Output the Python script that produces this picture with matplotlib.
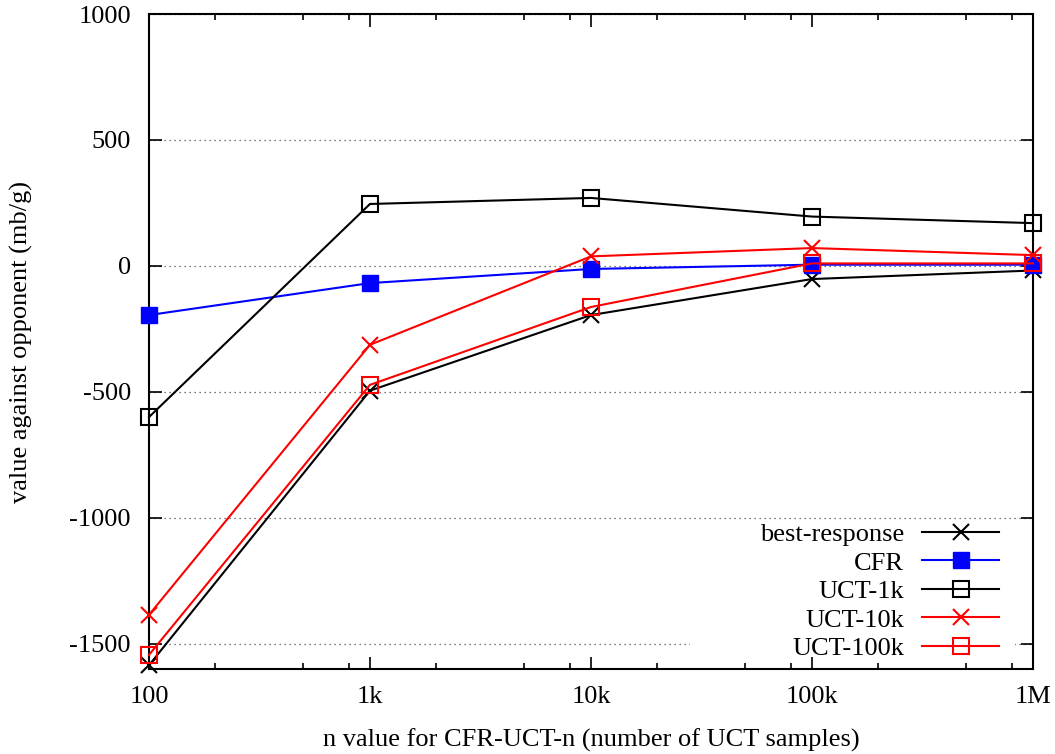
import matplotlib
matplotlib.use("Agg")
import matplotlib.pyplot as plt
import matplotlib.ticker as mticker
from matplotlib.patches import Rectangle

plt.rcParams['font.family'] = ['Liberation Serif', 'DejaVu Serif']
plt.rcParams['font.size'] = 19
plt.rcParams['axes.unicode_minus'] = False

# n values (number of UCT samples)
n_values = [100, 1000, 10000, 100000, 1000000]
n_labels = ["100", "1k", "10k", "100k", "1M"]

# value against opponent (mb/g)
best_response = [-1585, -495, -195, -52, -18]
cfr = [-195, -68, -12, 5, 5]
uct_1k = [-600, 246, 270, 196, 170]
uct_10k = [-1385, -313, 38, 71, 43]
uct_100k = [-1544, -472, -163, 10, 10]

fig = plt.figure(figsize=(10.55, 7.54), dpi=100)
ax = fig.add_axes([0.1412, 0.1127, 0.8379, 0.8687])

ms = 11
lw = 1.5
kw = dict(lw=lw, ms=ms, clip_on=False, zorder=3)
ax.plot(n_values, best_response, color='black', marker='x', mew=lw, label='best-response', **kw)
ax.plot(n_values, cfr, color='blue', marker='s', mfc='blue', mec='blue', label='CFR', **kw)
ax.plot(n_values, uct_1k, color='black', marker='s', mfc='none', mew=lw, label='UCT-1k', **kw)
ax.plot(n_values, uct_10k, color='red', marker='x', mew=lw, label='UCT-10k', **kw)
ax.plot(n_values, uct_100k, color='red', marker='s', mfc='none', mew=lw, label='UCT-100k', **kw)

ax.set_xscale('log')
ax.set_xlim(100, 1000000)
ax.set_ylim(-1600, 1000)
ax.set_xticks(n_values)
ax.set_xticklabels(n_labels)
ax.xaxis.set_minor_locator(mticker.LogLocator(base=10, subs=[2, 5, 8]))
ax.xaxis.set_minor_formatter(mticker.NullFormatter())
ax.set_yticks([-1500, -1000, -500, 0, 500, 1000])

ax.tick_params(which='both', direction='in', top=True, right=True, width=1.2, labelsize=19)
ax.tick_params(which='major', length=9)
ax.tick_params(which='minor', length=4.5)
ax.tick_params(axis='x', pad=12)
ax.tick_params(axis='y', pad=13)
for s in ax.spines.values():
    s.set_linewidth(1.5)

ax.yaxis.grid(True, linestyle=(0, (1, 3)), color='0.3', lw=0.9)
ax.set_axisbelow(True)

ax.set_xlabel("n value for CFR-UCT-n (number of UCT samples)", fontsize=19, labelpad=15)
ax.set_ylabel("value against opponent (mb/g)", fontsize=19, labelpad=26)

# white key box hiding the grid behind the legend
ax.add_patch(Rectangle((0.612, 0.021), 0.368, 0.199, transform=ax.transAxes,
                       facecolor='white', edgecolor='none', zorder=1))

leg = ax.legend(loc='lower right', bbox_to_anchor=(0.9615, 0.0137), markerfirst=False,
                handlelength=2.9, handletextpad=0.7, labelspacing=0.19,
                frameon=False, borderpad=0, borderaxespad=0, fontsize=19)

fig.savefig("out.png", dpi=100)
